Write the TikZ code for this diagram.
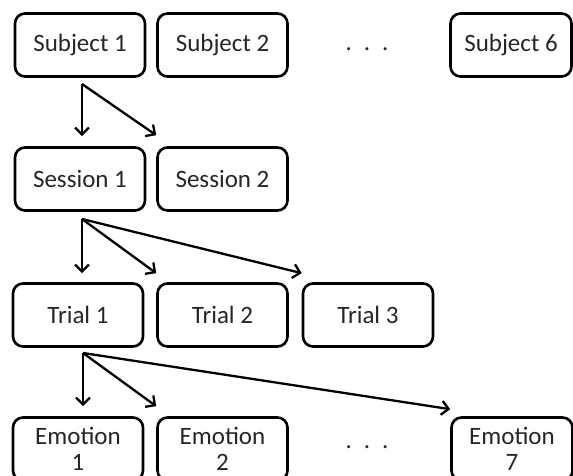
\documentclass[tikz,border=0pt]{standalone}
\usepackage{fontspec}
\setmainfont{Carlito}
\usetikzlibrary{arrows.meta,positioning}

\tikzset{
  box/.style={draw, rounded corners=10pt, line width=2.6pt, minimum width=130pt,
    minimum height=63pt, align=center, text=black!85,
    font=\fontsize{25}{28}\selectfont},
  gap/.style={text=black!85, font=\fontsize{25}{28}\selectfont},
  link/.style={line width=2.3pt, -{Straight Barb[length=7pt,width=14pt]}}
}

\begin{document}
\begin{tikzpicture}[x=1pt,y=-1pt]
  \useasboundingbox (0,0) rectangle (573,476);

  % subjects
  \node[box] (subj1) at (80,45) {Subject 1};
  \node[box] (subj2) at (222.5,45) {Subject 2};
  \node[gap, anchor=base] (subjdots) at (367,51) {.\hspace{12pt}.\hspace{12pt}.};
  \node[box, minimum width=121pt] (subj6) at (511,45) {Subject 6};

  % sessions
  \node[box] (sess1) at (80,179) {Session 1};
  \node[box] (sess2) at (222.5,179) {Session 2};

  % trials
  \node[box] (trial1) at (78,315) {Trial 1};
  \node[box] (trial2) at (222.5,315) {Trial 2};
  \node[box] (trial3) at (368,315) {Trial 3};

  % emotions
  \node[box, font=\fontsize{25}{26}\selectfont] (emo1) at (78,449) {Emotion\\1};
  \node[box, font=\fontsize{25}{26}\selectfont] (emo2) at (222.5,449) {Emotion\\2};
  \node[gap, anchor=base] (emodots) at (367,448) {.\hspace{12pt}.\hspace{12pt}.};
  \node[box, minimum width=121pt, font=\fontsize{25}{26}\selectfont] (emo7) at (512,449) {Emotion\\7};

  \coordinate (subjfork) at (82,84);
  \coordinate (sessfork) at (82,219);
  \coordinate (trialfork) at (83,353);

  \draw[link] (subjfork) -- ([yshift=10pt]subjfork |- sess1.north);
  \draw[link] (subjfork) -- ([yshift=11pt]sess2.north west);

  \draw[link] (sessfork) -- ([yshift=9pt]sessfork |- trial1.north);
  \draw[link] (sessfork) -- ([yshift=9pt]trial2.north west);
  \draw[link] (sessfork) -- ([yshift=9pt]trial3.north west);

  \draw[link] (trialfork) -- ([yshift=10pt]trialfork |- emo1.north);
  \draw[link] (trialfork) -- ([yshift=10pt]emo2.north west);
  \draw[link] (trialfork) -- ([yshift=7pt]emo7.north west);
\end{tikzpicture}
\end{document}
